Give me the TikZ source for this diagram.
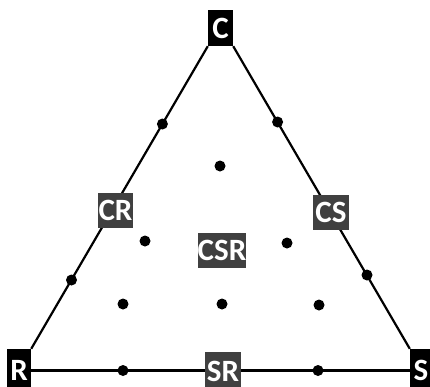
\documentclass[tikz,border=0pt]{standalone}
\usepackage{fontspec}
\setmainfont{Carlito}
\begin{document}
\begin{tikzpicture}[x=1pt,y=-1pt,
  vbox/.style={fill=black,text=white,inner sep=0pt,font=\fontsize{31}{31}\selectfont\bfseries},
  lbox/.style={fill=black!75,text=white,inner sep=0pt,font=\fontsize{31}{31}\selectfont\bfseries},
  dot/.style={circle,fill=black,inner sep=0pt,minimum size=11pt},
  edge/.style={line width=2.2pt,black}]
\useasboundingbox (0,0) rectangle (430,386);
\clip (0,0) rectangle (430,386);
% vertices
\node[vbox,minimum width=25pt,minimum height=36pt] (C) at (220.5,28) {C};
\node[vbox,minimum width=24pt,minimum height=43pt] (R) at (19,370.5) {R};
\node[vbox,minimum width=22pt,minimum height=43pt] (S) at (421,370.5) {S};
% triangle
\draw[edge] (R.north east) -- (C.south west);
\draw[edge] (C.south east) -- (S.north west);
\draw[edge] (R.east) -- (S.west);
% edge dots
\node[dot] (d1) at (162.4,124) {};
\node[dot] (d2) at (71.5,280) {};
\node[dot] (d3) at (277.6,122) {};
\node[dot] (d4) at (367,275) {};
\node[dot] (d5) at (123,370.5) {};
\node[dot] (d6) at (318,370.5) {};
% interior dots
\node[dot] (i1) at (220,166) {};
\node[dot] (i2) at (145,241) {};
\node[dot] (i3) at (287,243) {};
\node[dot] (i4) at (123,304) {};
\node[dot] (i5) at (222,304) {};
\node[dot] (i6) at (319,305) {};
% labels
\node[lbox,minimum width=35pt,minimum height=35pt] (CR) at (115.5,210.5) {CR};
\node[lbox,minimum width=36pt,minimum height=35pt] (CS) at (331,212.5) {CS};
\node[lbox,minimum width=48pt,minimum height=35pt] (CSR) at (222,250.5) {CSR};
\node[lbox,minimum width=36pt,minimum height=38pt] (SR) at (223,371) {SR};
\end{tikzpicture}
\end{document}
